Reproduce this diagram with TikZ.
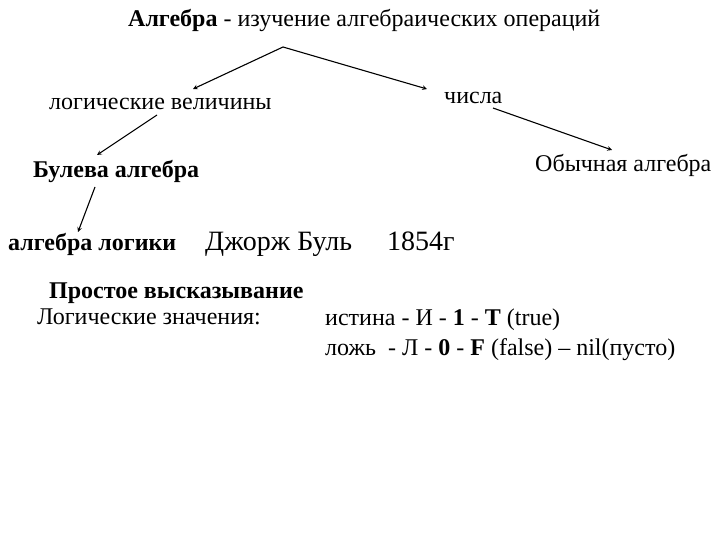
\documentclass[tikz,border=0pt]{standalone}
\usepackage{fontspec}
\setmainfont{Liberation Serif}
\usetikzlibrary{positioning}

\tikzset{
  txt/.style={anchor=base west, inner sep=0pt, font=\fontsize{24}{28}\selectfont},
  big/.style={txt, font=\fontsize{28}{32}\selectfont},
  link/.style={->, line width=1.1pt}
}

\begin{document}
\begin{tikzpicture}[>=stealth, x=1pt, y=-1pt]
  \useasboundingbox (0,0) rectangle (720,540);
  \node[txt] (title) at (128,27) {\textbf{Алгебра} - изучение алгебраических операций};
  \node[txt] (logic) at (49,110) {логические величины};
  \node[txt] (num) at (444,104) {числа};
  \node[txt] (bool) at (33,178) {\textbf{Булева алгебра}};
  \node[txt] (usual) at (535,172) {Обычная алгебра};
  \node[txt] (alglog) at (8,251) {\textbf{алгебра логики}};
  \node[big] (boole) at (205,250) {Джорж Буль};
  \node[big] (year) at (387,250) {1854г};
  \node[txt] (simple) at (49,298) {\textbf{Простое высказывание}};
  \node[txt] (values) at (37,324) {Логические значения:};
  \node[txt] (truth) at (325,325) {истина - И - \textbf{1} - \textbf{T} (true)};
  \node[txt] (lie) at (325,355) {ложь\hspace{0.5em}- Л - \textbf{0} - \textbf{F} (false) -- nil(пусто)};
  \coordinate (apex) at (283,47);
  \coordinate (a1) at (193,89);
  \coordinate (a2) at (427,89);
  \coordinate (b0) at (157,115);
  \coordinate (b1) at (97,155);
  \coordinate (c0) at (493,108);
  \coordinate (c1) at (612,150);
  \coordinate (d0) at (95,187);
  \coordinate (d1) at (78,232);
  \draw[link] (apex) -- (a1);
  \draw[link] (apex) -- (a2);
  \draw[link] (b0) -- (b1);
  \draw[link] (c0) -- (c1);
  \draw[link] (d0) -- (d1);
\end{tikzpicture}
\end{document}
